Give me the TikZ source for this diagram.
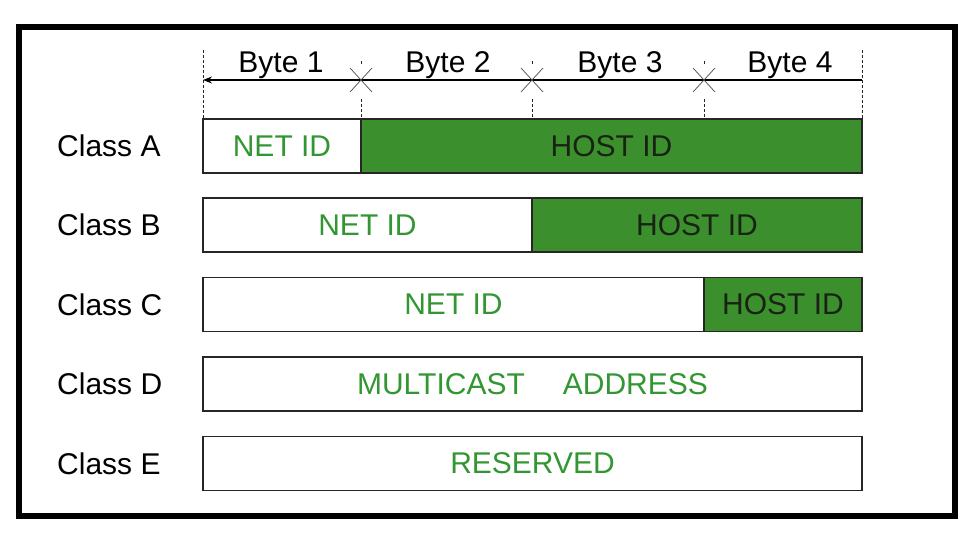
\documentclass[tikz,border=0pt]{standalone}
\usepackage{fontspec}
\setmainfont{Liberation Sans}
\usetikzlibrary{arrows.meta}
\definecolor{hostfill}{RGB}{60,143,45}
\definecolor{nettext}{RGB}{50,150,50}
\definecolor{hosttext}{RGB}{25,35,20}
\begin{document}
\begin{tikzpicture}[x=1pt,y=-1pt,
  txt/.style={font=\fontsize{30}{36}\selectfont, inner sep=0pt},
  seg/.style={draw=black!85, line width=1.2pt, minimum height=54pt, inner sep=0pt,
              font=\fontsize{30}{36}\selectfont, text=nettext},
  hostseg/.style={seg, fill=hostfill, text=hosttext},
  tick/.style={densely dashed, line width=0.8pt, black!85},
  cross/.style={line width=0.7pt, black!70}]
\useasboundingbox (0,0) rectangle (976,536);
% outer frame
\draw[line width=6pt] (19,27) rectangle (955,516);

% byte scale: boundaries of the four octets
\coordinate (b0) at (203,80);
\coordinate (b1) at (361,80);
\coordinate (b2) at (532,80);
\coordinate (b3) at (704,80);
\coordinate (b4) at (862,80);

\draw[tick] (203,50) -- (203,119);
\draw[tick] (862,50) -- (862,119);
\foreach \p in {361,532,704}{
  \draw[tick] (\p,61) -- (\p,66);
  \draw[tick] (\p,99) -- (\p,119);
}
\draw[line width=1.1pt, -{Stealth[length=9pt,width=7pt]}] (b4) -- (b0);
\foreach \c in {b1,b2,b3}{
  \draw[cross] ([shift={(-11,-12)}]\c) -- ([shift={(11,12)}]\c);
  \draw[cross] ([shift={(-11,12)}]\c) -- ([shift={(11,-12)}]\c);
}

\node[txt, anchor=base] (byte1) at (281,72) {Byte 1};
\node[txt, anchor=base] (byte2) at (448,72) {Byte 2};
\node[txt, anchor=base] (byte3) at (620,72) {Byte 3};
\node[txt, anchor=base] (byte4) at (790,72) {Byte 4};

% class labels
\node[txt, anchor=west] (la) at (57,146) {Class A};
\node[txt, anchor=west] (lb) at (57,225) {Class B};
\node[txt, anchor=west] (lc) at (57,304.5) {Class C};
\node[txt, anchor=west] (ld) at (57,384) {Class D};
\node[txt, anchor=west] (le) at (57,463.5) {Class E};

% Class A
\node[seg, minimum width=158pt] (anet) at (282,146) {NET ID};
\node[hostseg, minimum width=501pt] (ahost) at (611.5,146) {HOST ID};
% Class B
\node[seg, minimum width=329pt] (bnet) at (367.5,225) {NET ID};
\node[hostseg, minimum width=330pt] (bhost) at (697,225) {HOST ID};
% Class C
\node[seg, minimum width=501pt] (cnet) at (453.5,304.5) {NET ID};
\node[hostseg, minimum width=158pt] (chost) at (783,304.5) {HOST ID};
% Class D
\node[seg, minimum width=659pt] (dall) at (532.5,384) {MULTICAST\hspace{38pt}ADDRESS};
% Class E
\node[seg, minimum width=659pt] (eall) at (532.5,463.5) {RESERVED};
\end{tikzpicture}
\end{document}
